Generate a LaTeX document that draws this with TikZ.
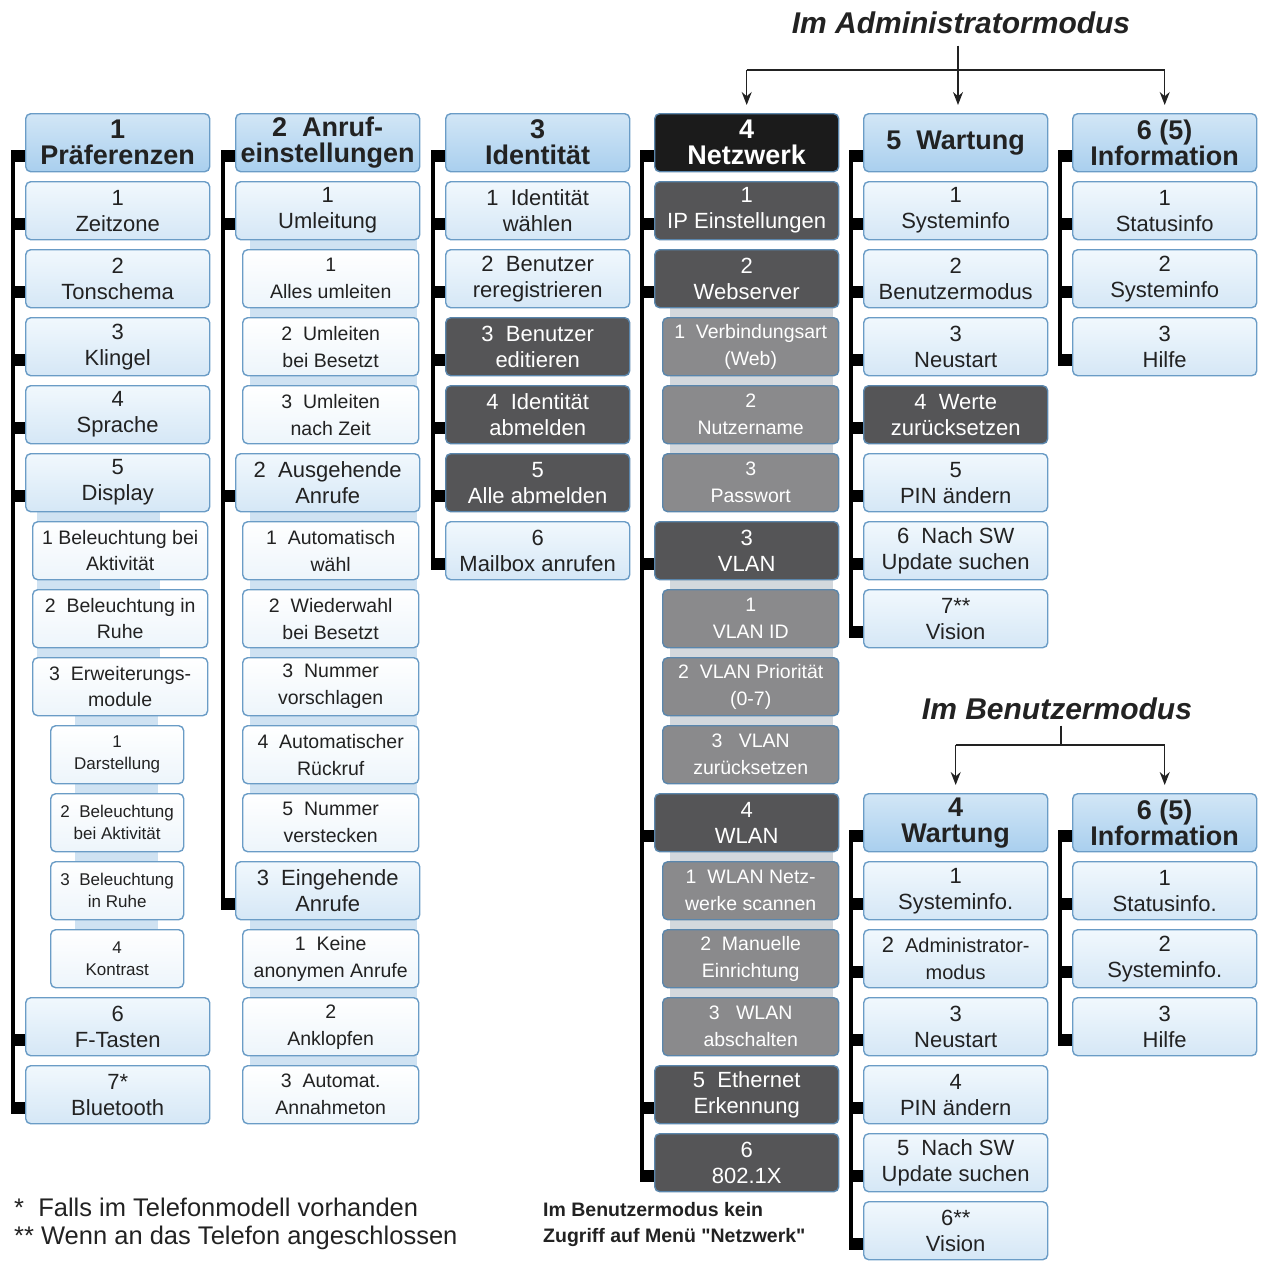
\documentclass[tikz,border=0pt]{standalone}
\usepackage{fontspec}
\setmainfont{Liberation Sans}
\newfontfamily\qfont{Liberation Sans}
\usetikzlibrary{calc,arrows.meta}
\pgfdeclarelayer{bg}
\pgfsetlayers{bg,main}
\definecolor{bbord}{HTML}{6A9CC6}
\definecolor{htop}{HTML}{D2E6F6}
\definecolor{hbot}{HTML}{A9CFEE}
\definecolor{itop}{HTML}{F1F8FD}
\definecolor{ibot}{HTML}{D5E7F6}
\definecolor{stop}{HTML}{FFFFFF}
\definecolor{sbot}{HTML}{EDF5FB}
\definecolor{darkg}{HTML}{555557}
\definecolor{medg}{HTML}{8A8A8C}
\definecolor{blk}{HTML}{1B1B1B}
\definecolor{dbord}{HTML}{5A86AC}
\definecolor{bandb}{HTML}{CFE2F2}
\definecolor{bandg}{HTML}{D3D8DD}
\definecolor{txt}{HTML}{222222}
\newcommand\B[6]{\node[#2,minimum width=#5pt,anchor=north west] (#1) at (#3,{113+68*(#4)}) {#6};}
\newcommand\stub[1]{\fill[black] ($(#1.north west)+(-14,37)$) rectangle ($(#1.north west)+(3,49)$);}
\newcommand\brline[2]{\fill[black] ($(#1.north west)+(-14,37)$) rectangle ($(#2.north west)+(-10,49)$);}
\newcommand\band[5]{\fill[#1] (#2,{113+68*(#3)+50}) rectangle (#4,{113+68*(#5)+5});}
\begin{document}
\begin{tikzpicture}[x=1pt,y=-1pt,
  box/.style={rounded corners=5pt,line width=1.4pt,draw=bbord,minimum height=58pt,inner sep=0pt,align=center,text=txt},
  hdr/.style={box,top color=htop,bottom color=hbot,font=\fontsize{27}{26}\selectfont\bfseries},
  blkhdr/.style={box,draw=dbord,fill=blk,text=white,font=\fontsize{27}{26}\selectfont\bfseries},
  item/.style={box,top color=itop,bottom color=ibot,font=\fontsize{22}{26}\selectfont},
  subA/.style={box,top color=stop,bottom color=sbot,font=\fontsize{19.5}{26}\selectfont},
  subB/.style={box,top color=stop,bottom color=sbot,font=\fontsize{17}{22}\selectfont},
  subC/.style={box,top color=stop,bottom color=sbot,font=\fontsize{19.5}{27}\selectfont},
  dark/.style={box,fill=darkg,draw=dbord,text=white,font=\fontsize{22}{26}\selectfont},
  gsub/.style={box,fill=medg,draw=dbord,text=white,font=\fontsize{19.5}{27}\selectfont},
  conn/.style={draw=txt,line width=1.3pt},
  arr/.style={conn,-{Stealth[length=13pt,width=10pt]},shorten >=8pt},
  title/.style={font=\fontsize{30}{32}\selectfont\bfseries\itshape,text=txt},
  note/.style={font=\fontsize{25.5}{28}\selectfont,text=txt,anchor=west,inner sep=0pt},
]
\useasboundingbox (0,0) rectangle (1268,1267);
% ---------- column 1
\B{h1}{hdr}{25}{0}{184}{1\\Präferenzen}
\B{a11}{item}{25}{1}{184}{1\\Zeitzone}
\B{a12}{item}{25}{2}{184}{2\\Tonschema}
\B{a13}{item}{25}{3}{184}{3\\Klingel}
\B{a14}{item}{25}{4}{184}{4\\Sprache}
\B{a15}{item}{25}{5}{184}{5\\Display}
\B{a151}{subA}{32}{6}{175}{1 Beleuchtung bei\\Aktivität}
\B{a152}{subA}{32}{7}{175}{2\ \ Beleuchtung in\\Ruhe}
\B{a153}{subA}{32}{8}{175}{3\ \ Erweiterungs-\\module}
\B{a1531}{subB}{50}{9}{133}{1\\Darstellung}
\B{a1532}{subB}{50}{10}{133}{2\ \ Beleuchtung\\bei Aktivität}
\B{a1533}{subB}{50}{11}{133}{3\ \ Beleuchtung\\in Ruhe}
\B{a1534}{subB}{50}{12}{133}{4\\Kontrast}
\B{a16}{item}{25}{13}{184}{6\\F-Tasten}
\B{a17}{item}{25}{14}{184}{7*\\Bluetooth}
% ---------- column 2
\B{h2}{hdr}{235}{0}{184}{2\ \ Anruf-\\einstellungen}
\B{a21}{item}{235}{1}{184}{1\\Umleitung}
\B{a211}{subC}{242}{2}{176}{1\\Alles umleiten}
\B{a212}{subC}{242}{3}{176}{2\ \ Umleiten\\bei Besetzt}
\B{a213}{subC}{242}{4}{176}{3\ \ Umleiten\\nach Zeit}
\B{a22}{item}{235}{5}{184}{2\ \ Ausgehende\\Anrufe}
\B{a221}{subC}{242}{6}{176}{1\ \ Automatisch\\wähl}
\B{a222}{subC}{242}{7}{176}{2\ \ Wiederwahl\\bei Besetzt}
\B{a223}{subC}{242}{8}{176}{3\ \ Nummer\\vorschlagen}
\B{a224}{subC}{242}{9}{176}{4\ \ Automatischer\\Rückruf}
\B{a225}{subC}{242}{10}{176}{5\ \ Nummer\\verstecken}
\B{a23}{item}{235}{11}{184}{3\ \ Eingehende\\Anrufe}
\B{a231}{subC}{242}{12}{176}{1\ \ Keine\\anonymen Anrufe}
\B{a232}{subC}{242}{13}{176}{2\\Anklopfen}
\B{a233}{subC}{242}{14}{176}{3\ \ Automat.\\Annahmeton}
% ---------- column 3
\B{h3}{hdr}{445}{0}{184}{3\\Identität}
\B{a31}{item}{445}{1}{184}{1\ \ Identität\\wählen}
\B{a32}{item}{445}{2}{184}{2\ \ Benutzer\\reregistrieren}
\B{a33}{dark}{445}{3}{184}{3\ \ Benutzer\\editieren}
\B{a34}{dark}{445}{4}{184}{4\ \ Identität\\abmelden}
\B{a35}{dark}{445}{5}{184}{5\\Alle abmelden}
\B{a36}{item}{445}{6}{184}{6\\Mailbox anrufen}
% ---------- column 4
\B{h4}{blkhdr}{654}{0}{184}{4\\Netzwerk}
\B{a41}{dark}{654}{1}{184}{1\\IP Einstellungen}
\B{a42}{dark}{654}{2}{184}{2\\Webserver}
\B{a421}{gsub}{662}{3}{176}{1\ \ Verbindungsart\\(Web)}
\B{a422}{gsub}{662}{4}{176}{2\\Nutzername}
\B{a423}{gsub}{662}{5}{176}{3\\Passwort}
\B{a43}{dark}{654}{6}{184}{3\\VLAN}
\B{a431}{gsub}{662}{7}{176}{1\\VLAN ID}
\B{a432}{gsub}{662}{8}{176}{2\ \ VLAN Priorität\\(0-7)}
\B{a433}{gsub}{662}{9}{176}{3\ \ \ VLAN\\zurücksetzen}
\B{a44}{dark}{654}{10}{184}{4\\WLAN}
\B{a441}{gsub}{662}{11}{176}{1\ \ WLAN Netz-\\werke scannen}
\B{a442}{gsub}{662}{12}{176}{2\ \ Manuelle\\Einrichtung}
\B{a443}{gsub}{662}{13}{176}{3\ \ \ WLAN\\abschalten}
\B{a45}{dark}{654}{14}{184}{5\ \ Ethernet\\Erkennung}
\B{a46}{dark}{654}{15}{184}{6\\802.1X}
% ---------- column 5 (admin)
\B{h5}{hdr}{863}{0}{184}{5\ \ Wartung}
\B{a51}{item}{863}{1}{184}{1\\Systeminfo}
\B{a52}{item}{863}{2}{184}{2\\Benutzermodus}
\B{a53}{item}{863}{3}{184}{3\\Neustart}
\B{a54}{dark}{863}{4}{184}{4\ \ Werte\\zurücksetzen}
\B{a55}{item}{863}{5}{184}{5\\PIN ändern}
\B{a56}{item}{863}{6}{184}{6\ \ Nach SW\\Update suchen}
\B{a57}{item}{863}{7}{184}{7**\\Vision}
% ---------- column 6 (admin)
\B{h6}{hdr}{1072}{0}{184}{6 (5)\\Information}
\B{a61}{item}{1072}{1}{184}{1\\Statusinfo}
\B{a62}{item}{1072}{2}{184}{2\\Systeminfo}
\B{a63}{item}{1072}{3}{184}{3\\Hilfe}
% ---------- user mode
\B{u5}{hdr}{863}{10}{184}{4\\Wartung}
\B{u51}{item}{863}{11}{184}{1\\Systeminfo.}
\B{u52}{item,font=\fontsize{20}{27}\selectfont}{863}{12}{184}{{\fontsize{22}{26}\selectfont 2}\ \ Administrator-\\modus}
\B{u53}{item}{863}{13}{184}{3\\Neustart}
\B{u54}{item}{863}{14}{184}{4\\PIN ändern}
\B{u55}{item}{863}{15}{184}{5\ \ Nach SW\\Update suchen}
\B{u56}{item}{863}{16}{184}{6**\\Vision}
\B{u6}{hdr}{1072}{10}{184}{6 (5)\\Information}
\B{u61}{item}{1072}{11}{184}{1\\Statusinfo.}
\B{u62}{item}{1072}{12}{184}{2\\Systeminfo.}
\B{u63}{item}{1072}{13}{184}{3\\Hilfe}
% ---------- titles and arrows
\node[title] (adm) at (961,23) {Im Administratormodus};
\coordinate (aj) at (958,70);
\draw[conn] (adm.south -| aj) ++(0,8) -- (aj);
\draw[conn] (aj -| h4.north) -- (aj -| h6.north);
\draw[arr] (aj -| h4.north) -- (h4.north);
\draw[arr] (aj) -- (aj |- h5.north);
\draw[arr] (aj -| h6.north) -- (h6.north);
\node[title] (usr) at (1057,709) {Im Benutzermodus};
\coordinate (uj) at (1061,745);
\draw[conn] (usr.south -| uj) ++(0,2) -- (uj);
\draw[conn] (uj -| u5.north) -- (uj -| u6.north);
\draw[arr] (uj -| u5.north) -- (u5.north);
\draw[arr] (uj -| u6.north) -- (u6.north);
% ---------- notes
\node[note] (fn1) at (14,1207) {*\ \ Falls im Telefonmodell vorhanden};
\node[note] (fn2) at (14,1238) {**\ Wenn an das Telefon angeschlossen};
\node[anchor=west,align=left,inner sep=0pt,text=txt,font=\fontsize{19.5}{26}\selectfont\qfont\bfseries] (nb) at (543,1224) {Im Benutzermodus kein\\Zugriff auf Menü "Netzwerk"};
% ---------- background: bands and brackets
\begin{pgfonlayer}{bg}
\band{bandb}{37}{5}{160}{8}
\band{bandb}{75}{8}{158}{12}
\band{bandb}{250}{1}{417}{4}
\band{bandb}{250}{5}{417}{10}
\band{bandb}{250}{11}{417}{14}
\band{bandg}{670}{2}{833}{5}
\band{bandg}{670}{6}{833}{9}
\band{bandg}{670}{10}{833}{13}
\brline{h1}{a17}
\foreach \n in {h1,a11,a12,a13,a14,a15,a16,a17} {\stub{\n}}
\brline{h2}{a23}
\foreach \n in {h2,a21,a22,a23} {\stub{\n}}
\brline{h3}{a36}
\foreach \n in {h3,a31,a32,a33,a34,a35,a36} {\stub{\n}}
\brline{h4}{a46}
\foreach \n in {h4,a41,a42,a43,a44,a45,a46} {\stub{\n}}
\brline{h5}{a57}
\foreach \n in {h5,a51,a52,a53,a54,a55,a56,a57} {\stub{\n}}
\brline{h6}{a63}
\foreach \n in {h6,a61,a62,a63} {\stub{\n}}
\brline{u5}{u56}
\foreach \n in {u5,u51,u52,u53,u54,u55,u56} {\stub{\n}}
\brline{u6}{u63}
\foreach \n in {u6,u61,u62,u63} {\stub{\n}}
\end{pgfonlayer}
\end{tikzpicture}
\end{document}
